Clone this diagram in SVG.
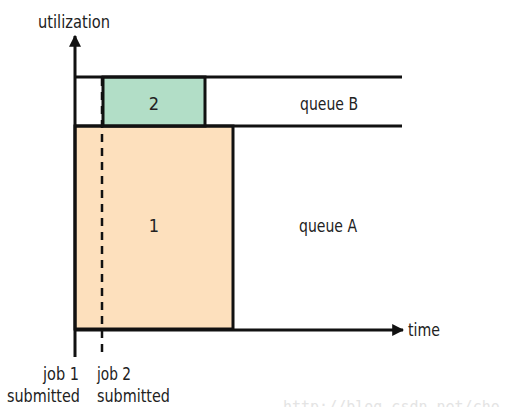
<svg xmlns="http://www.w3.org/2000/svg" width="521" height="407" viewBox="0 0 521 407">
<style>
.t{font-family:"DejaVu Sans","Liberation Sans",sans-serif;font-stretch:condensed;font-size:18px;fill:#222}
.ln{stroke:#111;stroke-width:3;fill:none}
.box{stroke:#111;stroke-width:3}
</style>
<defs>
<marker id="ah" viewBox="0 0 10 10" refX="9" refY="5" markerWidth="4" markerHeight="4" markerUnits="strokeWidth" orient="auto">
<path d="M0,0 L10,5 L0,10 Z" fill="#111"/>
</marker>
</defs>
<rect width="521" height="407" fill="#fff"/>
<g id="queueA">
<rect class="box" x="75" y="126" width="158" height="203" fill="#fde0bd"/>
<text class="t" x="154" y="232" text-anchor="middle">1</text>
<text class="t" x="299" y="232" textLength="58" lengthAdjust="spacingAndGlyphs">queue A</text>
</g>
<g id="queueB">
<rect class="box" x="103" y="77" width="102" height="49" fill="#b2dec7"/>
<text class="t" x="154" y="110" text-anchor="middle">2</text>
<text class="t" x="300" y="110" textLength="58" lengthAdjust="spacingAndGlyphs">queue B</text>
</g>
<g id="connectors">
<line class="ln" x1="75" y1="77" x2="402" y2="77"/>
<line class="ln" x1="75" y1="126" x2="402" y2="126"/>
<line class="ln" x1="75" y1="357" x2="75" y2="36" marker-end="url(#ah)"/>
<line class="ln" x1="75" y1="330" x2="403" y2="330" marker-end="url(#ah)"/>
<line x1="102" y1="78" x2="102" y2="358" stroke="#111" stroke-width="2.5" stroke-dasharray="8,6"/>
</g>
<g id="labels">
<text class="t" x="38" y="28" textLength="72" lengthAdjust="spacingAndGlyphs">utilization</text>
<text class="t" x="408" y="336" textLength="32" lengthAdjust="spacingAndGlyphs">time</text>
<text class="t" x="43" y="380" textLength="36" lengthAdjust="spacingAndGlyphs">job 1</text>
<text class="t" x="7" y="402" textLength="73" lengthAdjust="spacingAndGlyphs">submitted</text>
<text class="t" x="97" y="380" textLength="34" lengthAdjust="spacingAndGlyphs">job 2</text>
<text class="t" x="97" y="402" textLength="73" lengthAdjust="spacingAndGlyphs">submitted</text>
</g>
<text x="283" y="412" font-family="DejaVu Sans Mono,monospace" font-size="15" fill="#e4e4e4">http://blog.csdn.net/cho</text>
</svg>
